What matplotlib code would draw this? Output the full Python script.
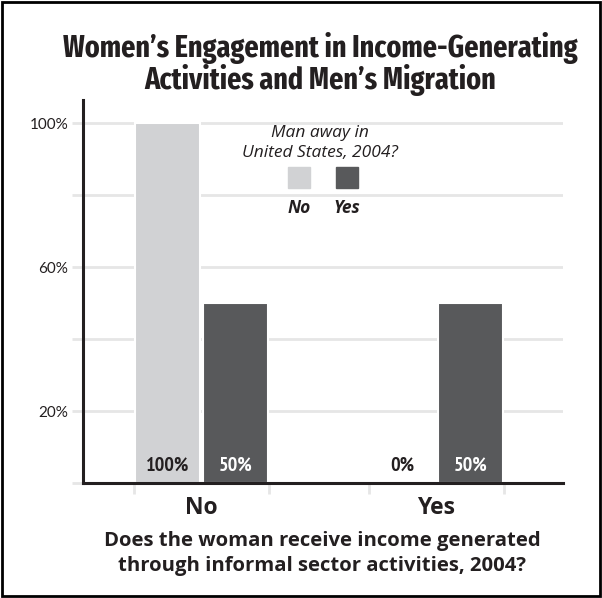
import numpy as np
import matplotlib
matplotlib.use('Agg')
import matplotlib.pyplot as plt
from matplotlib.patches import Rectangle

# data
groups = ['No', 'Yes']
series = ['No', 'Yes']
vals_no = [100, 0]     # man not away
vals_yes = [50, 50]    # man away in US
yticks = [0, 20, 40, 60, 80, 100]
ytick_labels = ['', '20%', '', '60%', '', '100%']

light = '#d1d2d4'
dark = '#58595b'
txt = '#231f20'
grid_c = '#e6e6e6'

cond = ['Fira Sans Extra Condensed', 'PT Sans Narrow', 'DejaVu Sans']
narrow = ['PT Sans Narrow', 'DejaVu Sans']
hum = ['Open Sans', 'DejaVu Sans']
reg = ['Lato', 'DejaVu Sans']

fig = plt.figure(figsize=(6.02, 5.98), dpi=100)
ax = fig.add_axes([0.1379, 0.1923, 0.7973, 0.6405])

x = np.arange(len(groups))
off = 0.145
w = 0.277
b1 = ax.bar(x - off, vals_no, w, color=light, edgecolor='white', linewidth=1.5, zorder=2)
b2 = ax.bar(x + off, vals_yes, w, color=dark, edgecolor='white', linewidth=1.5, zorder=2)

for xi, v in zip(x - off, vals_no):
    ax.text(xi, 2.3, f'{v}%', ha='center', va='bottom', fontsize=14.5, fontweight='bold',
            color=txt, family=narrow, zorder=3)
for xi, v in zip(x + off, vals_yes):
    ax.text(xi, 2.3, f'{v}%', ha='center', va='bottom', fontsize=14.5, fontweight='bold',
            color='white', family=narrow, zorder=3)

ax.set_xlim(-0.504, 1.538)
ax.set_ylim(0, 106.4)

ax.set_yticks(yticks)
ax.set_yticklabels(ytick_labels, family=reg, fontsize=11, color=txt)
ax.yaxis.grid(True, color=grid_c, linewidth=2, zorder=0)
ax.set_axisbelow(True)
ax.tick_params(axis='y', length=8, width=2, color=grid_c, pad=2.5)

ax.set_xticks(x)
ax.set_xticklabels(groups, family=hum, fontsize=16.5, fontweight='bold', color=txt)
ax.tick_params(axis='x', which='major', length=0, pad=9)
ax.set_xticks(np.concatenate([x - 0.287, x + 0.287]), minor=True)
ax.tick_params(axis='x', which='minor', length=8, width=2, color=grid_c)

for s in ['top', 'right']:
    ax.spines[s].set_visible(False)
for s in ['left', 'bottom']:
    ax.spines[s].set_linewidth(2.2)
    ax.spines[s].set_color(txt)

# legend drawn by hand
ax.text(0.494, 0.914, 'Man away in', transform=ax.transAxes, ha='center', va='center',
        fontsize=12.5, style='italic', family=hum, color=txt)
ax.text(0.494, 0.862, 'United States, 2004?', transform=ax.transAxes, ha='center', va='center',
        fontsize=12.5, style='italic', family=hum, color=txt)
for lx, c, lab in zip([0.45, 0.55], [light, dark], series):
    ax.add_patch(Rectangle((lx - 0.023, 0.770), 0.046, 0.055, transform=ax.transAxes,
                           color=c, zorder=3))
    ax.text(lx, 0.718, lab, transform=ax.transAxes, ha='center', va='center',
            fontsize=12.5, style='italic', fontweight='bold', family=hum, color=txt)

fig.text(0.532, 0.893, "Women\u2019s Engagement in Income-Generating\nActivities and Men\u2019s Migration",
         ha='center', va='center', fontsize=22, fontweight='bold', family=cond, color=txt,
         linespacing=1.02)
fig.text(0.535, 0.074, 'Does the woman receive income generated\nthrough informal sector activities, 2004?',
         ha='center', va='center', fontsize=14.6, fontweight='bold', family=hum, color=txt,
         linespacing=1.3)

fig.patches.append(Rectangle((0.003, 0.003), 0.994, 0.994, transform=fig.transFigure,
                             fill=False, edgecolor='black', linewidth=2))

fig.savefig('out.png', dpi=100)
